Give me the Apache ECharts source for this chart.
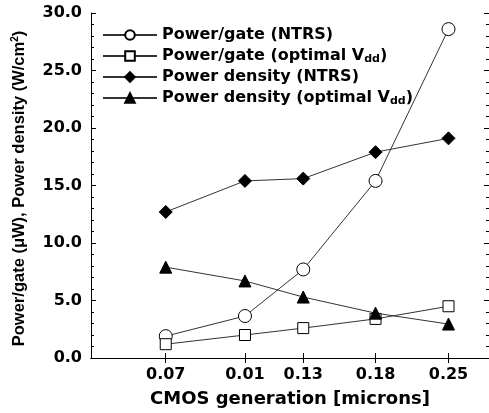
<!DOCTYPE html>
<html>
<head>
<meta charset="utf-8">
<script src="https://cdn.jsdelivr.net/npm/echarts@6/dist/echarts.min.js"></script>
<style>
  html, body { margin: 0; padding: 0; background: #fff; }
  #chart { width: 489px; height: 413px; }
</style>
</head>
<body>
<div id="chart"></div>
<script>
// CMOS generation (microns), plotted on a log axis; the label "0.01" is as printed
const generations = [0.07, 0.10, 0.13, 0.18, 0.25]
const tickLabels = ['0.07', '0.01', '0.13', '0.18', '0.25']

const powerGateNTRS = [1.9, 3.65, 7.7, 15.4, 28.6]
const powerGateOptimal = [1.2, 2.0, 2.6, 3.4, 4.5]
const densityNTRS = [12.7, 15.4, 15.6, 17.9, 19.1]
const densityOptimal = [7.9, 6.7, 5.3, 3.9, 2.95]

const yTicks = [0, 5, 10, 15, 20, 25, 30]

const font = '"DejaVu Sans", Verdana, sans-serif'
const narrowFont = '"Liberation Sans", Arial, Helvetica, sans-serif'

const pairs = vals => generations.map((g, i) => [g, vals[i]])

const labelFor = v => {
  let best = 0
  generations.forEach((g, i) => {
    if (Math.abs(g - v) < Math.abs(generations[best] - v)) best = i
  })
  return tickLabels[best]
}

const chart = echarts.init(document.getElementById('chart'))

const lineStyle = { color: '#333', width: 1 }

const makeSeries = (name, vals, symbol, size, filled) => ({
  name,
  type: 'line',
  data: pairs(vals),
  symbol,
  symbolSize: size,
  showAllSymbol: true,
  lineStyle,
  itemStyle: {
    color: filled ? '#000' : '#fff',
    borderColor: '#000',
    borderWidth: 1
  },
  emphasis: { disabled: true },
  z: 3
})

const sub = { fontSize: 11, fontWeight: 'bold', verticalAlign: 'bottom', padding: [9, 0, 0, 0], fontFamily: font }

const option = {
  animation: false,
  grid: { left: 91, right: 0, top: 13, bottom: 55, outerBoundsMode: 'none', containLabel: false },
  legend: {
    left: 97,
    top: 21,
    orient: 'vertical',
    itemWidth: 54,
    itemHeight: 12,
    itemGap: 3,
    textStyle: {
      fontFamily: font,
      fontSize: 16,
      fontWeight: 'bold',
      color: '#000',
      lineHeight: 18,
      rich: { sub }
    },
    formatter: name => name.replace('V_dd', 'V{sub|dd}'),
    data: [
      'Power/gate (NTRS)',
      'Power/gate (optimal V_dd)',
      'Power density (NTRS)',
      'Power density (optimal V_dd)'
    ]
  },
  xAxis: [
    {
      type: 'log',
      logBase: 10,
      min: 0.05,
      max: 0.3,
      name: 'CMOS generation [microns]',
      nameLocation: 'middle',
      nameGap: 32,
      nameTextStyle: { fontFamily: font, fontSize: 18, fontWeight: 'bold', color: '#000' },
      axisLine: { lineStyle: { color: '#000', width: 1 } },
      axisTick: { inside: true, length: 5, customValues: generations, lineStyle: { color: '#000' } },
      axisLabel: {
        customValues: generations,
        formatter: v => labelFor(v),
        fontFamily: font,
        fontSize: 16,
        fontWeight: 'bold',
        color: '#000',
        margin: 9
      },
      minorTick: { show: false },
      splitLine: { show: false }
    },
    {
      type: 'log',
      logBase: 10,
      min: 0.05,
      max: 0.3,
      position: 'top',
      axisLine: { lineStyle: { color: '#000', width: 1 } },
      axisTick: { inside: true, length: 5, customValues: generations, lineStyle: { color: '#000' } },
      axisLabel: { show: false },
      splitLine: { show: false }
    }
  ],
  yAxis: [
    {
      type: 'value',
      min: 0,
      max: 30,
      interval: 5,
      name: 'Power/gate (\u03bcW), Power density (W/cm{sup|2})',
      nameLocation: 'middle',
      nameGap: 62,
      nameTextStyle: {
        fontFamily: narrowFont,
        fontSize: 16.5,
        fontWeight: 'bold',
        color: '#000',
        padding: [0, 6, 0, 0],
        rich: { sup: { fontSize: 10, fontWeight: 'bold', verticalAlign: 'top', padding: [0, 0, 9, 0], fontFamily: narrowFont } }
      },
      axisLine: { show: true, lineStyle: { color: '#000', width: 1 } },
      axisTick: { show: true, inside: true, length: 5, lineStyle: { color: '#000' } },
      minorTick: { show: true, splitNumber: 5, length: 3, lineStyle: { color: '#000' } },
      axisLabel: {
        formatter: v => yTicks.includes(v) ? v.toFixed(1) : '',
        fontFamily: font,
        fontSize: 16,
        fontWeight: 'bold',
        color: '#000',
        margin: 9
      },
      splitLine: { show: false }
    },
    {
      type: 'value',
      min: 0,
      max: 30,
      interval: 5,
      position: 'right',
      axisLine: { show: true, lineStyle: { color: '#000', width: 1 } },
      axisTick: { show: true, inside: true, length: 5, lineStyle: { color: '#000' } },
      minorTick: { show: true, splitNumber: 5, length: 3, lineStyle: { color: '#000' } },
      axisLabel: { show: false },
      splitLine: { show: false }
    }
  ],
  series: [
    makeSeries('Power/gate (NTRS)', powerGateNTRS, 'circle', 13, false),
    makeSeries('Power/gate (optimal V_dd)', powerGateOptimal, 'rect', 11, false),
    makeSeries('Power density (NTRS)', densityNTRS, 'diamond', 13, true),
    makeSeries('Power density (optimal V_dd)', densityOptimal, 'triangle', 12, true)
  ]
}

chart.setOption(option)
</script>
</body>
</html>
